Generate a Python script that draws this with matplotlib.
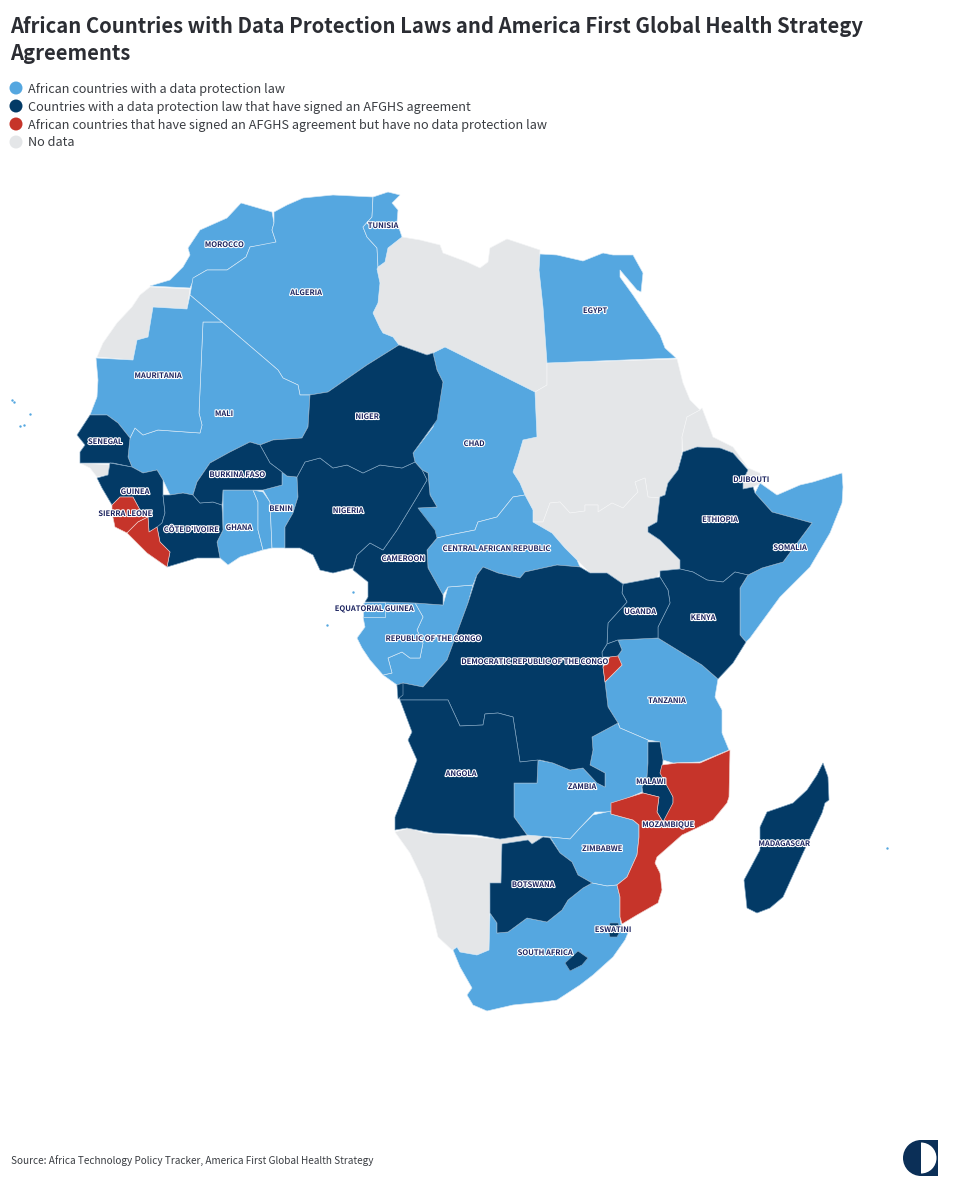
#!/usr/bin/env python
import matplotlib
matplotlib.use("Agg")
import matplotlib.pyplot as plt
import matplotlib.patheffects as pe
from matplotlib.patches import Circle, Wedge, Rectangle

plt.rcParams['font.family'] = ['Noto Sans CJK SC', 'DejaVu Sans']

# country outlines
MOROCCO = [(150,286),(170,280),(183,267),(190,255),(188,248),(200,230),(227,218),(241,203),(248,205),(272,212),(274,223),(272,230),(276,242),(270,244),(250,247),(246,257),(227,270),(207,270),(195,277),(190,288)]
W_SAHARA = [(150,287),(190,289),(187,309),(153,307),(148,337),(137,340),(133,360),(97,357),(103,343),(117,323),(132,307),(140,295)]
ALGERIA = [(274,212),(287,205),(303,198),(333,195),(373,197),(372,217),(363,227),(367,237),(377,248),(378,267),(377,269),(380,283),(378,303),(373,313),(380,328),(383,333),(393,337),(399,345),(367,365),(328,392),(310,395),(300,395),(298,385),(283,378),(278,370),(222,322),(190,295),(193,278),(207,270),(227,270),(246,257),(250,247),(276,242),(272,230),(274,223)]
TUNISIA = [(373,197),(388,192),(400,195),(392,203),(398,210),(397,222),(402,237),(388,248),(385,262),(378,267),(377,248),(367,237),(363,227),(372,217)]
LIBYA = [(402,237),(420,240),(440,245),(443,253),(467,262),(480,268),(488,262),(490,248),(507,239),(540,250),(539,270),(543,307),(547,363),(547,385),(535,392),(445,347),(433,353),(426,355),(399,345),(393,337),(383,333),(380,328),(373,313),(378,303),(380,283),(377,269),(378,267),(385,262),(388,248)]
EGYPT = [(540,254),(557,255),(583,261),(603,253),(613,255),(633,255),(643,273),(641,292),(637,290),(620,270),(620,277),(633,295),(660,335),(665,348),(676,358),(547,363),(543,307),(539,270)]
SUDAN = [(547,363),(677,359),(683,383),(690,400),(700,410),(687,417),(682,437),(682,452),(678,470),(668,483),(665,495),(660,498),(648,497),(645,478),(635,482),(638,492),(633,497),(623,508),(612,503),(598,512),(598,505),(585,505),(585,511),(570,513),(560,502),(550,503),(543,522),(533,522),(533,510),(525,495),(520,483),(513,472),(518,457),(523,440),(537,437),(535,392),(547,385)]
S_SUDAN = [(543,522),(550,503),(560,502),(570,513),(585,511),(585,505),(598,505),(598,512),(612,503),(623,508),(633,497),(638,492),(635,482),(645,478),(648,497),(660,498),(657,522),(648,527),(648,532),(660,540),(680,560),(680,569),(660,571),(657,578),(633,583),(623,584),(607,573),(590,573),(577,560),(565,548),(552,533),(533,522)]
ERITREA = [(700,410),(702,408),(713,437),(733,447),(748,468),(733,453),(720,448),(697,447),(683,452),(682,437),(687,417)]
DJIBOUTI = [(748,468),(760,473),(762,483),(753,487),(743,489),(743,480)]
ETHIOPIA = [(683,452),(697,447),(720,448),(733,453),(748,470),(743,480),(743,489),(753,487),(755,493),(772,512),(812,523),(783,562),(762,568),(748,575),(735,572),(723,582),(707,580),(693,572),(680,569),(680,560),(660,540),(648,532),(648,527),(657,522),(660,497),(665,495),(668,483),(678,470)]
SOMALIA = [(755,493),(760,483),(777,495),(800,485),(813,482),(842,473),(843,487),(842,503),(830,533),(810,567),(780,597),(750,638),(746,642),(740,635),(740,588),(748,575),(762,568),(783,562),(812,523),(772,512)]
KENYA = [(660,571),(680,569),(693,572),(707,580),(723,582),(735,572),(748,575),(740,588),(740,635),(746,642),(733,663),(718,679),(702,665),(658,638),(658,627),(670,603),(668,590),(660,577)]
UGANDA = [(623,584),(660,577),(668,590),(670,603),(658,627),(658,638),(618,640),(607,644),(608,623),(627,602),(622,593)]
TANZANIA = [(618,640),(658,638),(702,665),(718,679),(715,697),(722,710),(722,733),(729,750),(700,762),(673,763),(663,760),(660,742),(648,740),(620,728),(618,723),(608,707),(605,682),(622,665),(617,657),(622,650)]
RWANDA = [(607,644),(618,640),(622,650),(617,657),(610,657),(602,657),(602,652)]
BURUNDI = [(610,657),(618,656),(622,665),(605,682),(603,667)]
DRC = [(483,567),(498,573),(520,578),(525,572),(543,568),(557,565),(580,567),(590,573),(607,573),(623,584),(622,593),(627,602),(608,623),(607,644),(602,652),(603,667),(605,682),(608,707),(618,723),(592,737),(593,750),(590,765),(605,773),(605,787),(597,783),(583,768),(570,770),(553,763),(540,760),(520,762),(513,717),(498,713),(485,714),(483,725),(460,726),(448,700),(400,700),(397,685),(403,683),(423,687),(447,660),(468,603),(477,575)]
CONGO = [(443,605),(448,587),(473,585),(468,603),(447,660),(423,687),(403,683),(397,685),(383,675),(392,673),(388,658),(402,652),(410,658),(420,658),(423,643),(417,630),(423,617),(415,603)]
GABON = [(357,638),(365,627),(363,617),(385,617),(385,602),(415,603),(423,617),(417,630),(423,643),(420,658),(410,658),(402,652),(388,658),(392,673),(383,675),(370,660),(362,648)]
EQ_GUINEA = [(365,602),(385,602),(385,617),(363,617),(363,603)]
CAMEROON = [(422,470),(428,473),(430,495),(437,507),(418,508),(435,530),(437,538),(427,550),(428,568),(443,595),(443,605),(415,603),(385,602),(365,602),(368,597),(368,582),(353,570),(357,555),(370,543),(383,550),(397,530),(417,497),(427,480)]
NIGERIA = [(297,477),(305,462),(320,458),(333,468),(347,465),(363,473),(380,465),(402,468),(415,462),(422,470),(427,480),(417,497),(397,530),(383,550),(370,543),(357,555),(353,568),(333,573),(320,570),(313,555),(300,548),(285,548),(285,527),(293,513),(298,497)]
NIGER = [(310,395),(328,392),(367,365),(399,345),(427,355),(433,353),(437,370),(443,382),(437,420),(413,453),(415,462),(402,468),(380,465),(363,473),(347,465),(333,468),(320,458),(305,462),(297,477),(287,476),(282,472),(270,463),(260,445),(273,440),(302,438),(308,427)]
MALI = [(222,322),(278,370),(283,378),(298,385),(300,395),(310,395),(308,427),(302,438),(273,440),(260,445),(250,442),(230,452),(210,463),(197,482),(193,495),(183,493),(170,495),(163,480),(157,470),(143,473),(132,467),(128,457),(130,438),(135,428),(143,435),(158,430),(200,433),(202,425),(199,413),(203,322)]
MAURITANIA = [(190,295),(222,322),(203,322),(199,413),(202,425),(200,433),(158,430),(143,435),(135,428),(130,438),(118,423),(107,415),(90,415),(97,397),(98,380),(96,358),(133,360),(137,340),(148,337),(153,307),(187,309)]
SENEGAL = [(90,415),(107,415),(118,423),(130,438),(128,457),(132,467),(113,463),(80,463),(80,452),(85,445),(77,435)]
GAMBIA = [(82,452),(100,450),(108,452),(108,456),(100,455),(85,456)]
G_BISSAU = [(80,463),(110,465),(108,475),(97,477),(90,468)]
GUINEA = [(110,463),(132,467),(143,473),(157,470),(163,480),(163,495),(165,513),(162,523),(157,528),(149,532),(148,517),(140,510),(133,497),(120,497),(112,505),(102,488),(97,478),(108,475)]
S_LEONE = [(120,497),(133,497),(140,510),(148,517),(138,522),(127,533),(115,527),(112,513),(112,505)]
LIBERIA = [(148,517),(149,532),(157,527),(160,542),(170,552),(167,567),(147,553),(127,533),(138,522)]
IVORY_COAST = [(163,495),(170,495),(183,493),(193,495),(200,503),(213,502),(222,505),(223,530),(217,542),(220,558),(197,558),(167,567),(170,552),(160,542),(157,527),(162,523),(165,513)]
BURKINA = [(210,463),(230,452),(250,442),(260,445),(270,463),(282,472),(282,485),(263,490),(223,490),(222,505),(213,502),(200,503),(193,495),(197,482)]
GHANA = [(223,490),(253,490),(258,502),(258,530),(263,550),(240,557),(228,565),(220,558),(217,542),(223,530)]
TOGO = [(253,490),(263,492),(270,502),(272,548),(263,550),(258,530),(258,502)]
BENIN = [(263,490),(282,485),(282,472),(287,476),(297,477),(298,497),(293,513),(285,527),(285,548),(272,548),(270,502)]
CHAD = [(445,347),(535,392),(537,437),(523,440),(518,457),(513,472),(520,483),(525,495),(513,497),(497,517),(478,522),(475,530),(450,535),(437,538),(418,508),(437,507),(430,495),(428,473),(422,470),(415,462),(413,453),(433,427),(438,412),(443,382),(437,370),(433,353)]
CAR = [(525,495),(533,510),(533,522),(552,533),(565,548),(577,560),(580,567),(557,565),(543,568),(525,572),(520,578),(498,573),(483,567),(477,575),(473,585),(448,587),(443,595),(428,568),(427,550),(437,538),(450,535),(475,530),(478,522),(497,517),(513,497)]
ANGOLA = [(400,700),(448,700),(460,726),(483,725),(485,714),(498,713),(513,717),(520,762),(538,760),(537,783),(514,783),(514,817),(527,835),(500,839),(477,835),(433,833),(407,828),(395,830),(395,817),(407,787),(417,760),(408,740),(412,732)]
CABINDA = [(397,685),(403,683),(403,695),(398,699)]
NAMIBIA = [(395,832),(410,828),(423,833),(473,837),(497,839),(527,835),(548,834),(550,837),(543,837),(532,844),(528,840),(502,844),(501,883),(490,883),(489,950),(477,955),(460,952),(457,947),(452,950),(438,937),(430,903),(423,880),(410,853)]
BOTSWANA = [(502,844),(528,840),(532,844),(543,837),(550,838),(560,853),(572,862),(578,875),(592,883),(583,888),(568,900),(562,910),(547,922),(527,918),(508,932),(497,933),(497,923),(490,913),(490,883),(501,883)]
ZAMBIA = [(514,783),(537,783),(538,760),(553,763),(570,770),(583,768),(597,783),(605,787),(605,773),(590,765),(593,750),(592,737),(618,723),(620,728),(648,740),(648,763),(647,777),(642,787),(642,792),(612,805),(612,812),(595,812),(580,828),(570,839),(550,837),(527,835),(514,817)]
ZIMBABWE = [(550,837),(570,839),(580,828),(593,815),(611,811),(611,814),(633,820),(639,825),(639,837),(637,855),(627,877),(617,885),(607,886),(592,883),(578,875),(572,862),(560,853)]
MALAWI = [(648,742),(660,742),(663,760),(662,770),(673,797),(673,810),(663,822),(657,812),(659,797),(643,793),(642,787),(647,777),(648,763)]
MOZAMBIQUE = [(662,765),(677,763),(700,763),(730,750),(729,797),(727,803),(713,820),(697,828),(682,835),(657,857),(655,863),(660,873),(662,890),(658,903),(637,915),(622,924),(620,917),(620,897),(617,885),(627,877),(637,855),(639,837),(639,825),(633,820),(611,814),(611,803),(643,793),(659,797),(657,812),(663,822),(673,803),(673,797),(660,773)]
SOUTH_AFRICA = [(490,913),(497,923),(497,933),(508,932),(527,918),(547,922),(562,910),(568,900),(583,888),(592,883),(607,886),(617,885),(620,897),(620,917),(621,924),(628,933),(625,940),(613,957),(593,975),(580,985),(557,1000),(543,1002),(513,1005),(487,1011),(473,1005),(467,995),(472,988),(460,967),(453,950),(457,947),(460,952),(477,955),(489,950)]
ESWATINI = [(610,923),(618,923),(621,930),(617,937),(610,937),(608,930)]
LESOTHO = [(565,963),(578,951),(588,958),(582,965),(570,971)]
MADAGASCAR = [(823,763),(828,777),(829,800),(825,803),(822,813),(803,853),(783,897),(770,908),(757,913),(747,908),(744,880),(760,850),(760,827),(767,812),(793,803),(807,790),(817,775)]

# fill groups, by the legend's four classes
LAW_ONLY = [MOROCCO, ALGERIA, TUNISIA, EGYPT, SOMALIA, TANZANIA, CONGO, GABON, EQ_GUINEA, MALI,
            MAURITANIA, GAMBIA, GHANA, TOGO, BENIN, CHAD, CAR, ZAMBIA, ZIMBABWE, SOUTH_AFRICA]
LAW_AND_SIGNED = [ETHIOPIA, KENYA, UGANDA, RWANDA, DRC, CAMEROON, NIGERIA, NIGER, SENEGAL, GUINEA,
                  IVORY_COAST, BURKINA, ANGOLA, CABINDA, BOTSWANA, MALAWI, ESWATINI, LESOTHO, MADAGASCAR]
SIGNED_NO_LAW = [BURUNDI, S_LEONE, LIBERIA, MOZAMBIQUE]
NO_DATA = [W_SAHARA, LIBYA, SUDAN, S_SUDAN, ERITREA, DJIBOUTI, G_BISSAU, NAMIBIA]

# tiny islands
ISLANDS_X = [12, 14, 30, 20, 24, 353, 327, 887]
ISLANDS_Y = [400, 402, 414, 426, 425, 592, 625, 848]

LEGEND_LABELS = ["African countries with a data protection law",
                 "Countries with a data protection law that have signed an AFGHS agreement",
                 "African countries that have signed an AFGHS agreement but have no data protection law",
                 "No data"]

COUNTRY_NAMES = ["MOROCCO", "TUNISIA", "ALGERIA", "EGYPT", "MAURITANIA", "MALI", "NIGER", "CHAD", "SENEGAL",
                 "BURKINA FASO", "GUINEA", "SIERRA LEONE", "CÔTE D'IVOIRE", "GHANA", "BENIN", "NIGERIA",
                 "CAMEROON", "CENTRAL AFRICAN REPUBLIC", "EQUATORIAL GUINEA", "REPUBLIC OF THE CONGO",
                 "DEMOCRATIC REPUBLIC OF THE CONGO", "UGANDA", "KENYA", "TANZANIA", "ANGOLA", "ZAMBIA", "MALAWI",
                 "MOZAMBIQUE", "ZIMBABWE", "BOTSWANA", "ESWATINI", "SOUTH AFRICA", "MADAGASCAR", "ETHIOPIA",
                 "SOMALIA", "DJIBOUTI"]

NAME_X = [224, 383, 306, 595, 158, 224, 367, 474, 105, 237, 135, 125, 191, 239, 281, 348, 403, 496, 374, 433,
          534, 640, 703, 667, 461, 582, 651, 668, 602, 533, 613, 545, 784, 720, 790, 751]
NAME_Y = [244, 225, 292, 310, 375, 413, 416, 443, 441, 474, 491, 513, 529, 527, 508, 510, 558, 548, 608, 638,
          661, 611, 617, 700, 773, 786, 781, 824, 848, 884, 929, 952, 843, 519, 547, 479]

LIGHT = "#55A7E0"
NAVY = "#033A66"
RED = "#C6342A"
GRAY = "#E4E6E8"
LABEL_COLOR = "#1C2460"


def draw_group(ax, group, color, edge):
    for outline in group:
        xs, ys = zip(*outline)
        ax.fill(xs, ys, facecolor=color, edgecolor=edge, linewidth=0.45, joinstyle="round")


def main():
    fig = plt.figure(figsize=(9.6, 12), dpi=100)
    ax = fig.add_axes([0, 0, 1, 1])
    ax.set_xlim(0, 960)
    ax.set_ylim(1200, 0)
    ax.axis("off")

    draw_group(ax, NO_DATA, GRAY, "#F4F5F6")
    draw_group(ax, LAW_ONLY, LIGHT, "#D5E8F6")
    draw_group(ax, LAW_AND_SIGNED, NAVY, "#7FA3C0")
    draw_group(ax, SIGNED_NO_LAW, RED, "#F0D0CC")
    ax.scatter(ISLANDS_X, ISLANDS_Y, s=3, color=LIGHT, linewidths=0)

    for name, x, y in zip(COUNTRY_NAMES, NAME_X, NAME_Y):
        ax.text(x, y + 0.5, name, fontsize=5.45, fontweight="bold", color=LABEL_COLOR, ha="center", va="center",
                path_effects=[pe.withStroke(linewidth=1.6, foreground="white")])

    ax.text(10, 26.5, "African Countries with Data Protection Laws and America First Global Health Strategy",
            fontsize=14.6, fontweight="bold", color="#2B2D33", va="center")
    ax.text(10, 53, "Agreements", fontsize=14.6, fontweight="bold", color="#2B2D33", va="center")

    for label, color, y in zip(LEGEND_LABELS, [LIGHT, NAVY, RED, GRAY], [88, 106, 124, 142]):
        ax.add_patch(Circle((16, y), 6.5, facecolor=color, edgecolor="none"))
        ax.text(28, y + 1, label, fontsize=9.12, color="#3A3D42", va="center")

    ax.text(11, 1161, "Source: Africa Technology Policy Tracker, America First Global Health Strategy",
            fontsize=7.2, color="#3A3D42", va="center")

    # logo
    ax.add_patch(Wedge((921, 1158), 18, 90, 270, facecolor="#0B2F57", edgecolor="none"))
    ax.add_patch(Rectangle((921, 1140), 17, 36, facecolor="#0B2F57", edgecolor="none"))
    ax.add_patch(Wedge((921, 1158), 15.5, -90, 90, facecolor="white", edgecolor="none"))

    fig.savefig("out.png", dpi=100)


if __name__ == "__main__":
    main()
